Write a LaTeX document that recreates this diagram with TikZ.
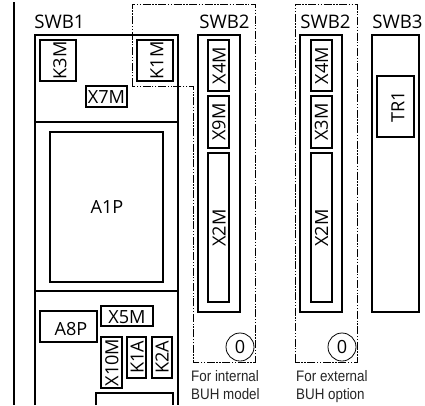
\documentclass[tikz,border=0pt]{standalone}
\usepackage{fontspec}
\setmainfont{Open Sans}
\newfontfamily\narrowf{Liberation Sans}
\begin{document}
\begin{tikzpicture}[x=0.75pt,y=-0.75pt,
  box/.style={draw=black,line width=1.6pt,fill=none},
  bx/.style={draw=black,line width=1.3pt},
  part/.style={font=\fontsize{13.6}{15}\selectfont,text=black,inner sep=0pt},
  vert/.style={part,rotate=90},
  head/.style={font=\fontsize{14}{16}\selectfont,text=black,inner sep=0pt},
  dashbox/.style={draw=black,line width=0.6pt,dash pattern=on 6pt off 1.2pt on 1pt off 1.2pt on 1pt off 1.2pt},
  zero/.style={circle,draw=black,line width=0.6pt,minimum size=21pt,inner sep=0pt,font=\fontsize{13.6}{15}\selectfont,fill=white},
  note/.style={font=\narrowf\fontsize{11.4}{13.5}\selectfont,text=black!85,inner sep=0pt,align=left,anchor=north west,xscale=0.88,transform shape}]
\useasboundingbox (0,0) rectangle (425,405);
\path[fill=white] (0,0) rectangle (425,405);
\draw[box] (14,2) -- (14,405);
% SWB1
\draw[box] (35,405) -- (35,35) -- (178,35) -- (178,405);
\draw[box] (34,122) -- (179,122);
\draw[box] (34,291) -- (179,291);
\node[head] at (59.5,22) {SWB1};
\draw[bx] (40,40) rectangle (76,81);
\node[vert] at (60,60.5) {K3M};
\draw[bx] (137,40) rectangle (173,81);
\node[vert] at (157,60.5) {K1M};
\draw[bx] (86,86) rectangle (127,107);
\node[part] at (106.5,97) {X7M};
\draw[bx] (50,132) rectangle (163,282);
\node[part] at (107,207) {A1P};
\draw[bx] (40,311) rectangle (97,342);
\node[part] at (71,329) {A8P};
\draw[bx] (101,306) rectangle (153,326);
\node[part] at (127,317) {X5M};
\draw[bx] (101,337) rectangle (122,388);
\node[vert] at (112,362.5) {X10M};
\draw[bx] (127,337) rectangle (146,378);
\node[vert] at (137,357.5) {K1A};
\draw[bx] (152,337) rectangle (172,378);
\node[vert] at (162,357.5) {K2A};
\draw[bx] (96,405) -- (96,393) -- (173,393) -- (173,405);
% SWB2 internal
\node[head] at (224.5,22) {SWB2};
\draw[box] (198,35) rectangle (240,312);
\draw[bx] (208,40) rectangle (229,91);
\node[vert] at (219,65.5) {X4M};
\draw[bx] (208,96) rectangle (229,148);
\node[vert] at (219,122) {X9M};
\draw[bx] (208,153) rectangle (229,302);
\node[vert] at (219,228) {X2M};
\node[zero] (c1) at (240,347) {0};
\draw[dashbox] (132,86) -- (132,4) -- (255,4) -- (255,362) -- (193,362) -- (193,86) -- cycle;
\node[note] at (191,370) {For internal\\BUH model};
% SWB2 external
\node[head] at (325.5,22) {SWB2};
\draw[box] (300,35) rectangle (342,312);
\draw[bx] (311,40) rectangle (332,91);
\node[vert] at (321.5,65.5) {X4M};
\draw[bx] (311,96) rectangle (332,148);
\node[vert] at (321.5,122) {X3M};
\draw[bx] (311,153) rectangle (332,302);
\node[vert] at (321.5,228) {X2M};
\node[zero] (c2) at (342,347) {0};
\draw[dashbox] (295,362) -- (295,4) -- (357,4) -- (357,362) -- cycle;
\node[note] at (296,370) {For external\\BUH option};
% SWB3
\node[head] at (397.5,22) {SWB3};
\draw[box] (372,35) rectangle (419,312);
\draw[bx] (377,76) rectangle (414,137);
\node[vert] at (398,106.5) {TR1};
\end{tikzpicture}
\end{document}
